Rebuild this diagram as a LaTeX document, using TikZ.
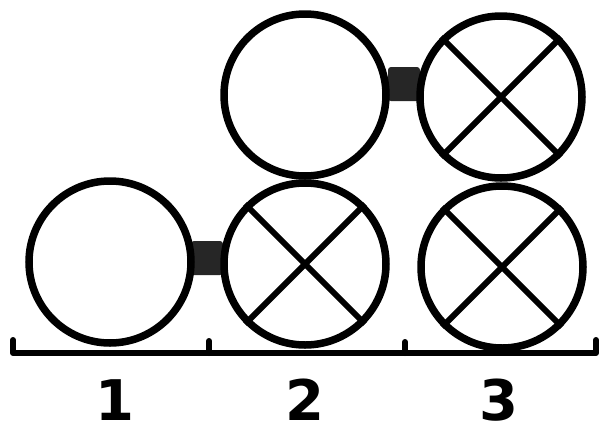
\documentclass[tikz,border=0pt]{standalone}
\usepackage{fontspec}
\setmainfont{DejaVu Sans}
\begin{document}
\begin{tikzpicture}[x=1pt,y=-1pt,
  ring/.style={circle,draw,line width=7.5pt,minimum size=162pt,inner sep=0pt},
  link/.style={rectangle,fill=black!85,rounded corners=3pt,minimum width=32pt,minimum height=34pt,inner sep=0pt},
  num/.style={font=\fontsize{56}{58}\selectfont\bfseries,inner sep=0pt},
  base/.style={line width=6pt,line cap=round,line join=round}]
\useasboundingbox (0,0) rectangle (600,440);
% connectors (behind circles)
\node[link] (l1) at (207,258) {};
\node[link] (l2) at (404,84) {};
% circles
\node[ring] (a) at (110,262) {};
\node[ring] (b) at (305,264) {};
\node[ring] (c) at (502,267) {};
\node[ring] (d) at (305,95) {};
\node[ring] (e) at (501,97) {};
% crosses
\foreach \n in {b,c,e}{
  \draw[line width=6pt] (\n.north west) -- (\n.south east);
  \draw[line width=6pt] (\n.north east) -- (\n.south west);
}
% baseline
\coordinate (p0) at (13,340);
\coordinate (q0) at (13,353);
\coordinate (q3) at (596,353);
\coordinate (p3) at (596,340);
\coordinate (t1) at (209,341);
\coordinate (u1) at (209,353);
\coordinate (t2) at (405,342);
\coordinate (u2) at (405,353);
\draw[base] (p0) -- (q0) -- (q3) -- (p3);
\draw[base] (t1) -- (u1);
\draw[base] (t2) -- (u2);
% labels
\node[num] (n1) at (115,400) {1};
\node[num] (n2) at (305,400) {2};
\node[num] (n3) at (499,400) {3};
\end{tikzpicture}
\end{document}
